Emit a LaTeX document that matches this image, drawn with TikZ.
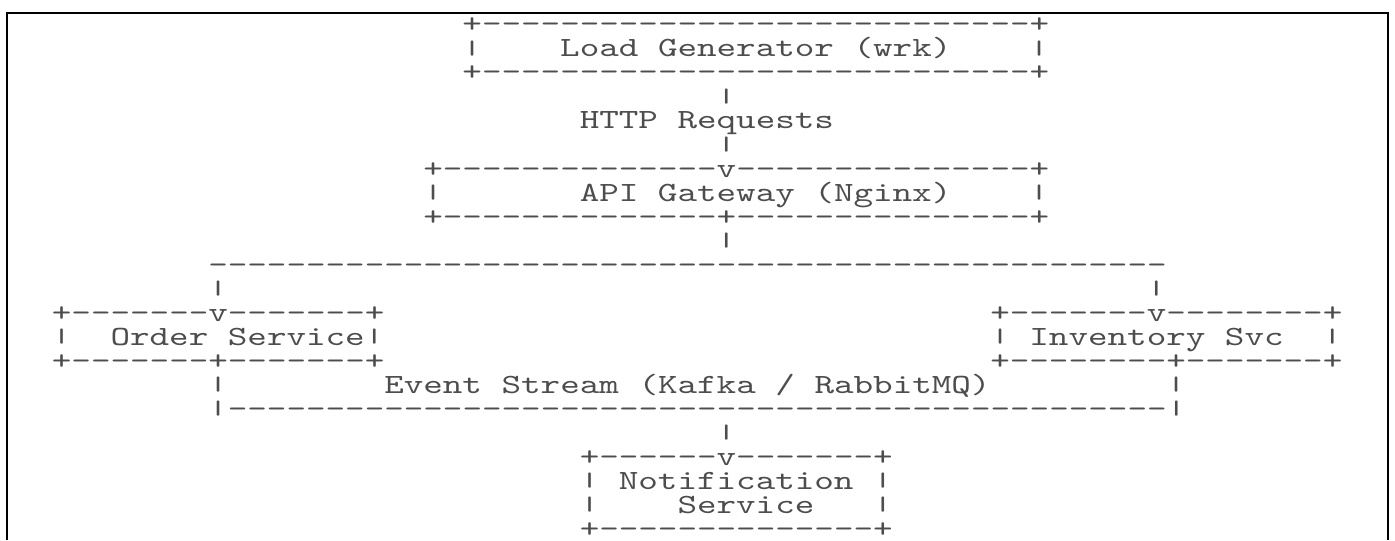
\documentclass[tikz,border=0pt]{standalone}
\usepackage{fontspec}
\newfontfamily\asciifont{lmmono10-regular.otf}[FakeStretch=1.34,Ligatures=TeXOff]
\definecolor{ink}{HTML}{4D4D4D}
% short bar, as the box sides
\newcommand\asciibar{\raisebox{1.3pt}{\scalebox{1}[0.7]{|}}}

\tikzset{
  txt/.style={anchor=base west, inner sep=0pt, outer sep=0pt, text=ink,
    text height=8pt, text depth=1pt,
    font=\asciifont\fontsize{13.9}{14}\selectfont},
  outline/.style={draw=black, line width=1pt}
}

\begin{document}
\begin{tikzpicture}[x=9.775pt,y=-12pt]
\useasboundingbox (-2.655,-1.375) rectangle (68.70,21.125);
\draw[outline] (-2.30,21.125) |- (68.35,-0.833) -- (68.35,21.125);

% load generator
\path (21,0) node[txt] (lgtop) {+----------------------------+};
\path (21,1) node[txt] (lgl) {\asciibar};
\path (26,1) node[txt] (lg) {Load Generator (wrk)};
\path (50,1) node[txt] (lgr) {\asciibar};
\path (21,2) node[txt] (lgbot) {+----------------------------+};

\path (34,3) node[txt] (p1) {\asciibar};
\path (27,4) node[txt] (http) {HTTP Requests};
\path (34,5) node[txt] (p2) {\asciibar};

% api gateway
\path (19,6) node[txt] (gwtop) {+--------------v---------------+};
\path (19,7) node[txt] (gwl) {\asciibar};
\path (27,7) node[txt] (gw) {API Gateway (Nginx)};
\path (50,7) node[txt] (gwr) {\asciibar};
\path (19,8) node[txt] (gwbot) {+--------------+---------------+};

\path (34,9) node[txt] (p3) {\asciibar};
\path (8,10) node[txt] (fan) {-------------------------------------------------};
\path (8,11) node[txt] (p4) {\asciibar};
\path (56,11) node[txt] (p5) {\asciibar};

% order service
\path (0,12) node[txt] (ostop) {+-------v-------+};
\path (0,13) node[txt] (osl) {\asciibar};
\path (3,13) node[txt] (os) {Order Service};
\path (16,13) node[txt] (osr) {\asciibar};
\path (0,14) node[txt] (osbot) {+-------+-------+};

% inventory
\path (48,12) node[txt] (invtop) {+-------v--------+};
\path (48,13) node[txt] (invl) {\asciibar};
\path (50,13) node[txt] (inv) {Inventory Svc};
\path (65,13) node[txt] (invr) {\asciibar};
\path (48,14) node[txt] (invbot) {+--------+-------+};

% event stream
\path (8,15) node[txt] (esl) {\asciibar};
\path (17,15) node[txt] (es) {Event Stream (Kafka / RabbitMQ)};
\path (57,15) node[txt] (esr) {\asciibar};
\path (8,16) node[txt] (esbot) {\asciibar------------------------------------------------\asciibar};

\path (34,17) node[txt] (p6) {\asciibar};

% notification
\path (27,18) node[txt] (nstop) {+------v-------+};
\path (27,19) node[txt] (nsl1) {\asciibar};
\path (29,19) node[txt] (ns1) {Notification};
\path (42,19) node[txt] (nsr1) {\asciibar};
\path (27,20) node[txt] (nsl2) {\asciibar};
\path (32,20) node[txt] (ns2) {Service};
\path (42,20) node[txt] (nsr2) {\asciibar};
\path (27,21) node[txt] (nsbot) {+--------------+};
\end{tikzpicture}
\end{document}
